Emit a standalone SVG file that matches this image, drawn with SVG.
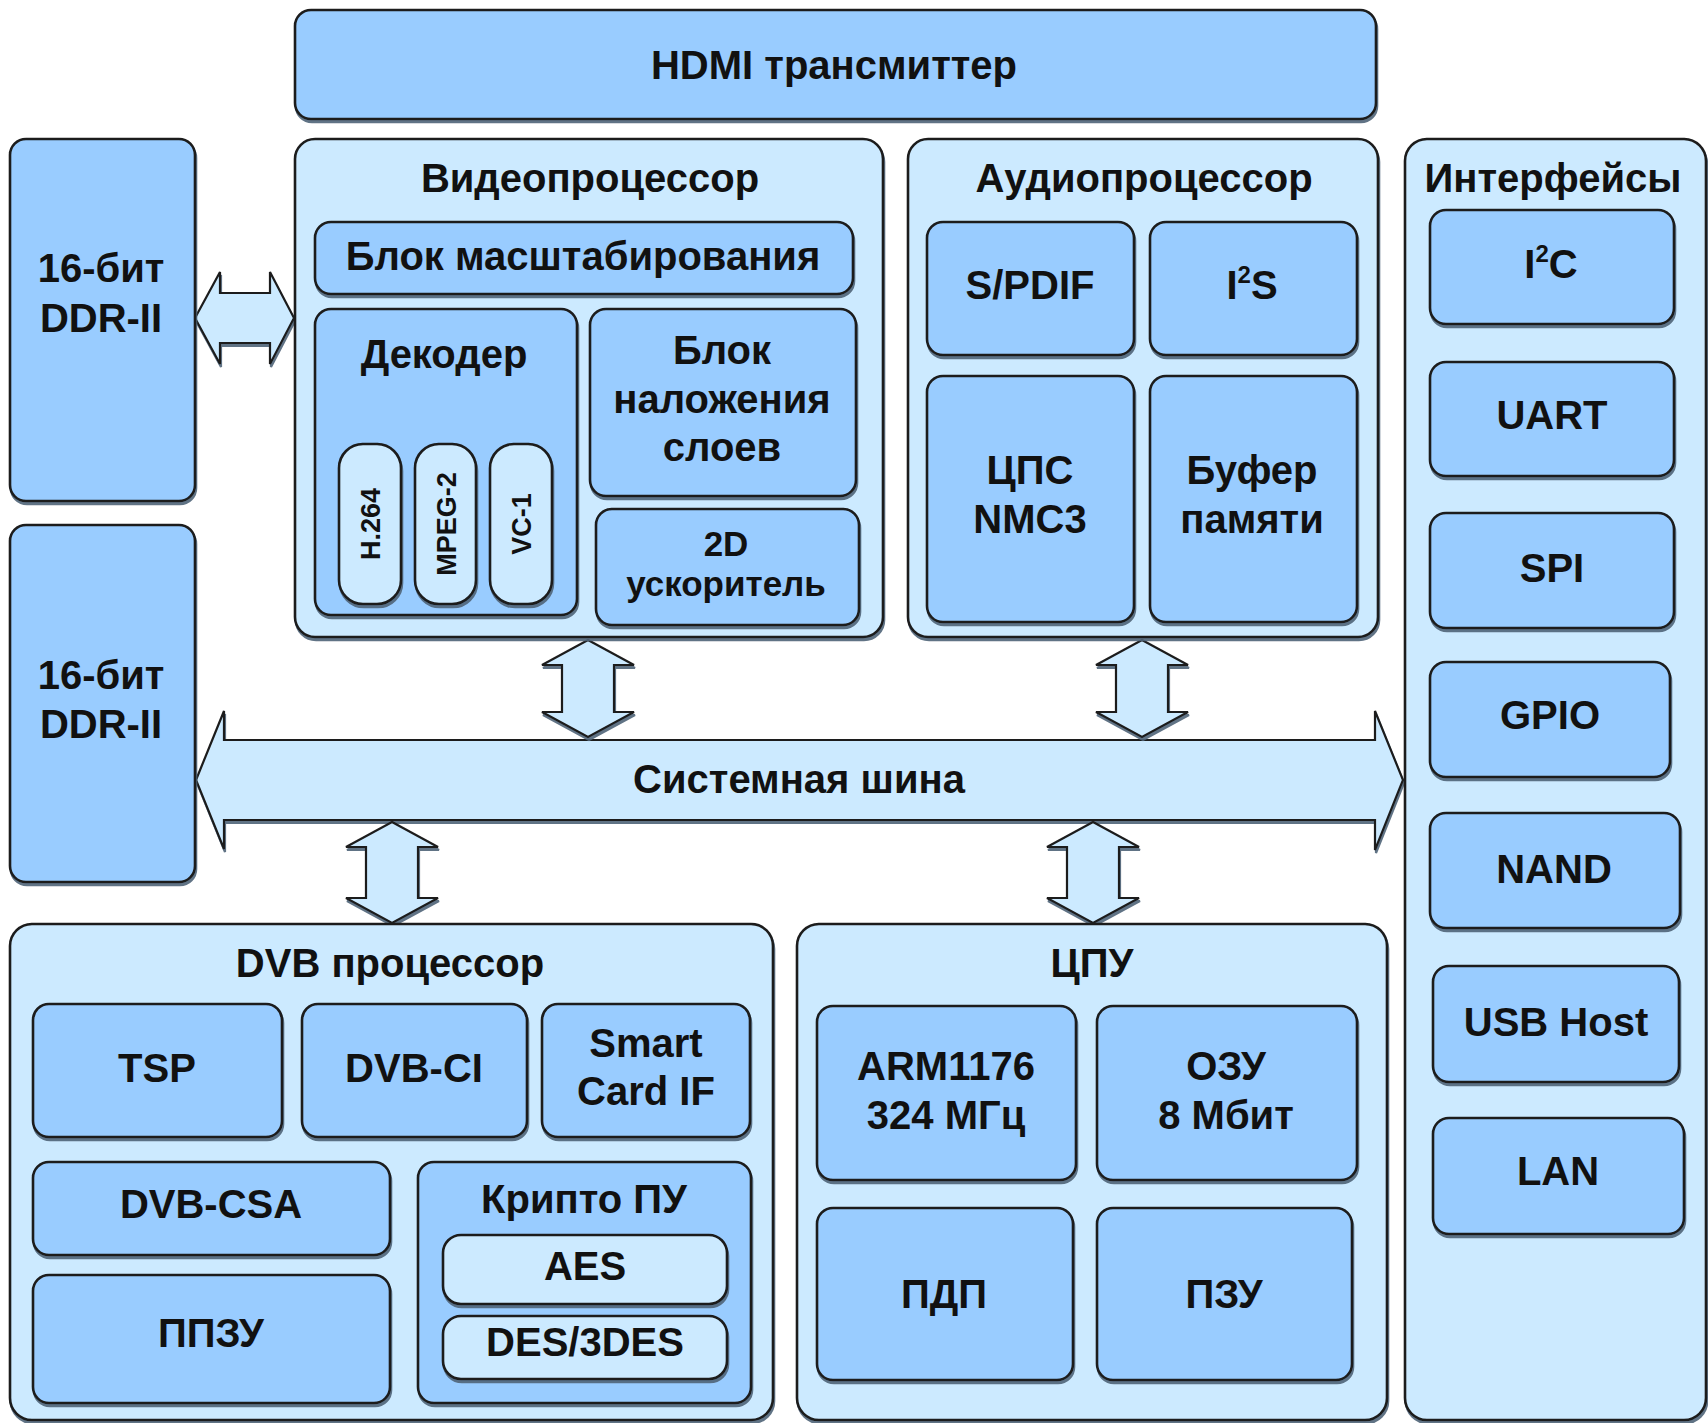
<svg xmlns="http://www.w3.org/2000/svg" width="1708" height="1423" viewBox="0 0 1708 1423">
<defs>
<filter id="sh" x="-5%" y="-5%" width="110%" height="115%">
<feDropShadow dx="1" dy="3" stdDeviation="0.6" flood-color="#4f6378" flood-opacity="0.9"/>
</filter>
<style>
.c{fill:#cceaff;stroke:#1c1c1c;stroke-width:2.6;filter:url(#sh)}
.b{fill:#99ccff;stroke:#1c1c1c;stroke-width:2.6;filter:url(#sh)}
.p{fill:#cceaff;stroke:#1c1c1c;stroke-width:2.6;filter:url(#sh)}
.a{fill:#cceaff;stroke:#1c1c1c;stroke-width:2.2;stroke-linejoin:miter;filter:url(#sh)}
text{font-family:"Liberation Sans",Arial,sans-serif;font-weight:bold;font-size:40px;fill:#111;text-anchor:middle}
.s{font-size:27px}
.m{font-size:35px}
</style>
</defs>
<rect width="1708" height="1423" fill="#ffffff"/>

<g id="connectors">
<polygon class="a" points="196,780 224,711 224,740 1375,740 1375,711 1403,780 1375,850 1375,820 224,820 224,849"/>
<polygon class="a" points="195,318 220,272 220,293 270,293 270,272 294,318 270,364 270,343 220,343 220,364"/>
<polygon class="a" points="588,640 634,665 614,665 614,712 634,712 588,737 542,712 562,712 562,665 542,665"/>
<polygon class="a" points="1142,640 1188,665 1168,665 1168,712 1188,712 1142,737 1096,712 1116,712 1116,665 1096,665"/>
<polygon class="a" points="392,822 438,847 418,847 418,898 438,898 392,923 346,898 366,898 366,847 346,847"/>
<polygon class="a" points="1093,822 1139,847 1119,847 1119,898 1139,898 1093,923 1047,898 1067,898 1067,847 1047,847"/>
</g>
<text x="799" y="793">Системная шина</text>

<g id="hdmi">
<rect class="b" x="295" y="10" width="1081" height="109" rx="16"/>
<text x="834" y="79">HDMI трансмиттер</text>
</g>

<g id="ddr1">
<rect class="b" x="10" y="139" width="185" height="362" rx="16"/>
<text x="101" y="282">16-бит</text>
<text x="101" y="332">DDR-II</text>
</g>

<g id="ddr2">
<rect class="b" x="10" y="525" width="185" height="357" rx="16"/>
<text x="101" y="689">16-бит</text>
<text x="101" y="738">DDR-II</text>
</g>

<g id="video">
<rect class="c" x="295" y="139" width="588" height="498" rx="20"/>
<text x="590" y="192">Видеопроцессор</text>
<g id="scaler">
<rect class="b" x="315" y="222" width="538" height="72" rx="16"/>
<text x="583" y="270">Блок масштабирования</text>
</g>
<g id="decoder">
<rect class="b" x="315" y="309" width="262" height="306" rx="16"/>
<text x="444" y="368">Декодер</text>
<g id="h264"><rect class="p" x="339" y="444" width="62" height="160" rx="24"/>
<text class="s" transform="translate(370,524) rotate(-90)" x="0" y="10">H.264</text></g>
<g id="mpeg2"><rect class="p" x="415" y="444" width="61" height="160" rx="24"/>
<text class="s" transform="translate(446,524) rotate(-90)" x="0" y="10">MPEG-2</text></g>
<g id="vc1"><rect class="p" x="490" y="444" width="62" height="160" rx="24"/>
<text class="s" transform="translate(521,524) rotate(-90)" x="0" y="10">VC-1</text></g>
</g>
<g id="overlay">
<rect class="b" x="590" y="309" width="266" height="187" rx="16"/>
<text x="722" y="364">Блок</text>
<text x="722" y="413">наложения</text>
<text x="722" y="461">слоев</text>
</g>
<g id="accel2d">
<rect class="b" x="596" y="509" width="263" height="116" rx="16"/>
<text class="m" x="726" y="556">2D</text>
<text class="m" x="726" y="596">ускоритель</text>
</g>
</g>

<g id="audio">
<rect class="c" x="908" y="139" width="470" height="498" rx="20"/>
<text x="1144" y="192">Аудиопроцессор</text>
<g id="spdif"><rect class="b" x="927" y="222" width="207" height="133" rx="16"/>
<text x="1030" y="299">S/PDIF</text></g>
<g id="i2s"><rect class="b" x="1150" y="222" width="207" height="133" rx="16"/>
<text x="1252" y="299">I<tspan font-size="24" dy="-16">2</tspan><tspan dy="16">S</tspan></text></g>
<g id="dsp"><rect class="b" x="927" y="376" width="207" height="246" rx="16"/>
<text x="1030" y="484">ЦПС</text>
<text x="1030" y="533">NMC3</text></g>
<g id="buffer"><rect class="b" x="1150" y="376" width="207" height="246" rx="16"/>
<text x="1252" y="484">Буфер</text>
<text x="1252" y="533">памяти</text></g>
</g>

<g id="interfaces">
<rect class="c" x="1405" y="139" width="301" height="1281" rx="22"/>
<text x="1553" y="192">Интерфейсы</text>
<g id="i2c"><rect class="b" x="1430" y="210" width="244" height="114" rx="16"/>
<text x="1551" y="278">I<tspan font-size="24" dy="-16">2</tspan><tspan dy="16">C</tspan></text></g>
<g id="uart"><rect class="b" x="1430" y="362" width="244" height="114" rx="16"/>
<text x="1552" y="429">UART</text></g>
<g id="spi"><rect class="b" x="1430" y="513" width="244" height="115" rx="16"/>
<text x="1552" y="582">SPI</text></g>
<g id="gpio"><rect class="b" x="1430" y="662" width="240" height="115" rx="16"/>
<text x="1550" y="729">GPIO</text></g>
<g id="nand"><rect class="b" x="1430" y="813" width="250" height="115" rx="16"/>
<text x="1554" y="883">NAND</text></g>
<g id="usb"><rect class="b" x="1433" y="966" width="246" height="116" rx="16"/>
<text x="1556" y="1036">USB Host</text></g>
<g id="lan"><rect class="b" x="1433" y="1118" width="251" height="116" rx="16"/>
<text x="1558" y="1185">LAN</text></g>
</g>

<g id="dvb">
<rect class="c" x="10" y="924" width="763" height="496" rx="22"/>
<text x="390" y="977">DVB процессор</text>
<g id="tsp"><rect class="b" x="33" y="1004" width="249" height="133" rx="16"/>
<text x="157" y="1082">TSP</text></g>
<g id="dvbci"><rect class="b" x="302" y="1004" width="225" height="133" rx="16"/>
<text x="414" y="1082">DVB-CI</text></g>
<g id="smartcard"><rect class="b" x="542" y="1004" width="208" height="133" rx="16"/>
<text x="646" y="1057">Smart</text>
<text x="646" y="1105">Card IF</text></g>
<g id="dvbcsa"><rect class="b" x="33" y="1162" width="357" height="93" rx="16"/>
<text x="211" y="1218">DVB-CSA</text></g>
<g id="ppzu"><rect class="b" x="33" y="1275" width="357" height="128" rx="16"/>
<text x="211" y="1347">ППЗУ</text></g>
<g id="crypto"><rect class="b" x="418" y="1162" width="333" height="241" rx="16"/>
<text x="584" y="1213">Крипто ПУ</text>
<g id="aes"><rect class="p" x="443" y="1235" width="284" height="69" rx="18"/>
<text x="585" y="1280">AES</text></g>
<g id="des"><rect class="p" x="443" y="1316" width="284" height="63" rx="18"/>
<text x="585" y="1356">DES/3DES</text></g>
</g>
</g>

<g id="cpu">
<rect class="c" x="797" y="924" width="590" height="496" rx="22"/>
<text x="1092" y="977">ЦПУ</text>
<g id="arm"><rect class="b" x="817" y="1006" width="259" height="174" rx="16"/>
<text x="946" y="1080">ARM1176</text>
<text x="946" y="1129">324 МГц</text></g>
<g id="ozu"><rect class="b" x="1097" y="1006" width="260" height="174" rx="16"/>
<text x="1226" y="1080">ОЗУ</text>
<text x="1226" y="1129">8 Мбит</text></g>
<g id="pdp"><rect class="b" x="817" y="1208" width="256" height="172" rx="16"/>
<text x="944" y="1308">ПДП</text></g>
<g id="pzu"><rect class="b" x="1097" y="1208" width="255" height="172" rx="16"/>
<text x="1224" y="1308">ПЗУ</text></g>
</g>
</svg>
